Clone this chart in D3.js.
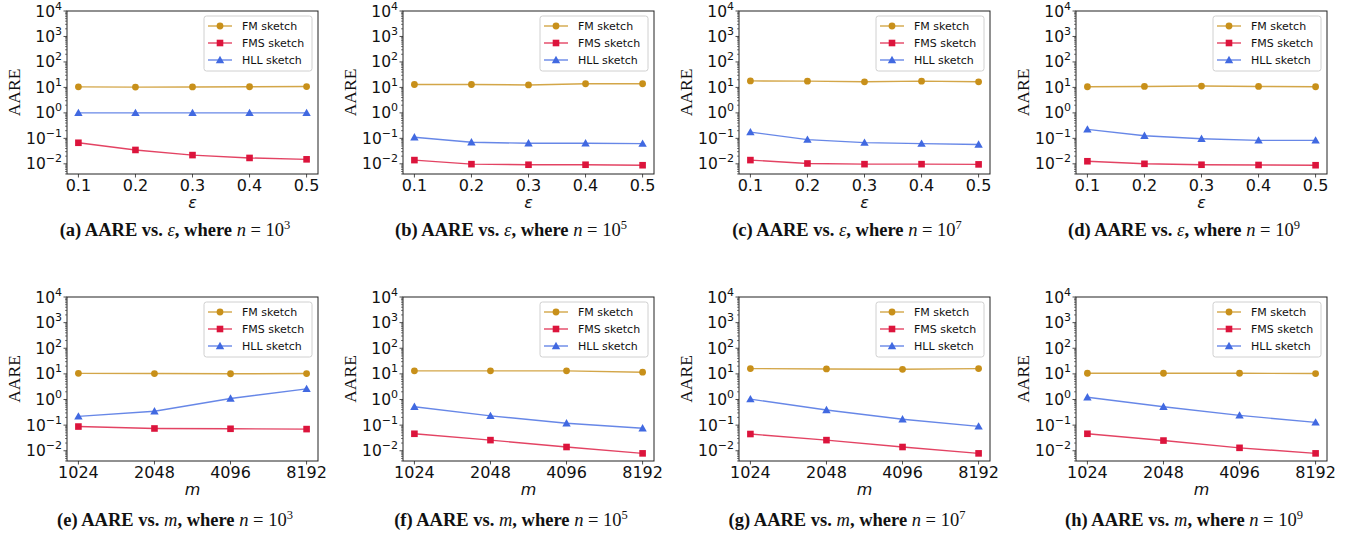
<!DOCTYPE html>
<html><head><meta charset="utf-8">
<script src="https://cdn.jsdelivr.net/npm/d3@7"></script>
<style>body{margin:0;background:#fff}svg{display:block}</style>
</head><body>
<svg id="c" width="1357" height="539"></svg>
<script>
const epsVals = [0.1,0.2,0.3,0.4,0.5];
const mVals = [1024,2048,4096,8192];
const nExp = ["3","5","7","9"];
const letters = ["a","b","c","d","e","f","g","h"];
const seriesNames = ["FM sketch","FMS sketch","HLL sketch"];
const yTicks = [1e-2,1e-1,1e0,1e1,1e2,1e3,1e4];

const fmEps  = [[10.5,10.3,10.4,10.6,10.8],[13.0,13.0,12.5,13.9,13.9],[18.0,17.6,16.6,17.6,16.6],[10.6,10.9,11.3,10.9,10.6]];
const fmsEps = [[0.067,0.035,0.022,0.017,0.015],[0.0140,0.0097,0.0092,0.0092,0.0088],[0.0140,0.0103,0.0097,0.0097,0.0095],[0.0126,0.0100,0.0092,0.0090,0.0088]];
const hllEps = [[1.0,1.0,1.0,1.0,1.0],[0.11,0.07,0.064,0.064,0.062],[0.176,0.089,0.068,0.062,0.057],[0.224,0.127,0.097,0.083,0.083]];

const fmM  = [[10.5,10.3,10.1,10.3],[13.1,13.1,13.1,11.6],[16.1,15.6,15.1,16.1],[10.6,10.6,10.6,10.3]];
const fmsM = [[0.088,0.074,0.072,0.070],[0.046,0.026,0.014,0.0079],[0.045,0.026,0.014,0.0079],[0.046,0.025,0.013,0.0079]];
const hllM = [[0.22,0.35,1.1,2.6],[0.52,0.23,0.118,0.076],[1.03,0.39,0.17,0.089],[1.23,0.52,0.24,0.128]];

const colors = ["#c8901a","#dc143c","#4169e1"];
const svg = d3.select("#c");
const offsets = [0,336,672,1009];
const PW = 251;
const rows = [{top:11,bottom:174,capY:236,tickY:191,labY:208},{top:297,bottom:461,capY:526,tickY:478,labY:495}];

function marker(g, type, x, y, col){
  if(type===0) g.append("circle").attr("cx",x).attr("cy",y).attr("r",3.4).attr("fill",col);
  else if(type===1) g.append("rect").attr("x",x-3.3).attr("y",y-3.3).attr("width",6.6).attr("height",6.6).attr("fill",col);
  else g.append("path").attr("d",`M${x},${y-4.2}L${x+4.2},${y+3.2}L${x-4.2},${y+3.2}Z`).attr("fill",col);
}

function supText(sel, base, exp, baseSize, expSize){
  sel.append("tspan").text(base).attr("font-size",baseSize);
  sel.append("tspan").text(exp).attr("font-size",expSize).attr("dy",-baseSize*0.45);
}

for(let r=0;r<2;r++){
  const row = rows[r];
  for(let p=0;p<4;p++){
    const ox = offsets[p]+67;
    const g = svg.append("g");
    const y = d3.scaleLog().domain([Math.pow(10,-2.4),1e4]).range([row.bottom,row.top]);
    let x, xs, data, tickFmt, xlab;
    if(r===0){
      x = d3.scaleLinear().domain([0.08,0.52]).range([ox,ox+PW]);
      xs = epsVals; data=[fmEps[p],fmsEps[p],hllEps[p]]; tickFmt=d=>d.toFixed(1); xlab="ε";
    } else {
      x = d3.scaleLog().base(2).domain([Math.pow(2,9.85),Math.pow(2,13.15)]).range([ox,ox+PW]);
      xs = mVals; data=[fmM[p],fmsM[p],hllM[p]]; tickFmt=d=>String(d); xlab="m";
    }
    const minor=[];
    for(let e=-3;e<4;e++) for(let k=2;k<10;k++){const v=k*Math.pow(10,e); if(v>=y.domain()[0]&&v<=1e4) minor.push(v);}
    g.selectAll(".mn").data(minor).enter().append("line")
      .attr("x1",ox).attr("x2",ox-2).attr("y1",d=>y(d)).attr("y2",d=>y(d)).attr("stroke","#222").attr("stroke-width",0.6);
    g.selectAll(".mj").data(yTicks).enter().append("line")
      .attr("x1",ox).attr("x2",ox-3.5).attr("y1",d=>y(d)).attr("y2",d=>y(d)).attr("stroke","#222").attr("stroke-width",0.8);
    yTicks.forEach(t=>{
      const e=Math.round(Math.log10(t));
      const tx=g.append("text").attr("x",ox-5).attr("y",y(t)+5.5).attr("text-anchor","end")
        .attr("font-family","DejaVu Sans").attr("fill","#111");
      supText(tx,"10",(e<0?"−":"")+Math.abs(e),15.5,11);
    });
    xs.forEach(v=>{
      g.append("line").attr("x1",x(v)).attr("x2",x(v)).attr("y1",row.bottom).attr("y2",row.bottom+3.5).attr("stroke","#222").attr("stroke-width",0.8);
      g.append("text").attr("x",x(v)).attr("y",row.tickY).attr("text-anchor","middle")
        .attr("font-family","DejaVu Sans").attr("font-size",16).attr("fill","#111").text(tickFmt(v));
    });
    g.append("text").attr("x",ox+PW/2).attr("y",row.labY).attr("text-anchor","middle")
      .attr("font-family","DejaVu Sans").attr("font-style","italic").attr("font-size",16).attr("fill","#111").text(xlab);
    g.append("text").attr("transform",`translate(${ox-47},${(row.top+row.bottom)/2}) rotate(-90)`)
      .attr("text-anchor","middle").attr("font-family","Liberation Serif").attr("font-size",17.5).attr("fill","#111").text("AARE");
    const line = d3.line().x((d,i)=>x(xs[i])).y(d=>y(d));
    data.forEach((s,si)=>{
      g.append("path").attr("d",line(s)).attr("fill","none").attr("stroke",colors[si]).attr("stroke-width",1.4).attr("stroke-opacity",0.8);
      s.forEach((v,i)=>marker(g,si,x(xs[i]),y(v),colors[si]));
    });
    g.append("rect").attr("x",ox).attr("y",row.top).attr("width",PW).attr("height",row.bottom-row.top)
      .attr("fill","none").attr("stroke","#222").attr("stroke-width",1);
    const lx=ox+137, ly=row.top+5;
    g.append("rect").attr("x",lx).attr("y",ly).attr("width",108).attr("height",55).attr("rx",2.5)
      .attr("fill","#fff").attr("fill-opacity",0.8).attr("stroke","#d0d0d0").attr("stroke-width",1);
    seriesNames.forEach((nm,si)=>{
      const yy=ly+10+si*17;
      g.append("line").attr("x1",lx+4).attr("x2",lx+28).attr("y1",yy).attr("y2",yy).attr("stroke",colors[si]).attr("stroke-width",1.4).attr("stroke-opacity",0.8);
      marker(g,si,lx+16,yy,colors[si]);
      g.append("text").attr("x",lx+38).attr("y",yy+4).attr("font-family","DejaVu Sans").attr("font-size",11).attr("fill","#111").text(nm);
    });
    const cap=g.append("text").attr("x",offsets[p]+175).attr("y",row.capY).attr("text-anchor","middle")
      .attr("font-family","Liberation Serif").attr("font-size",18.5).attr("fill","#111");
    cap.append("tspan").attr("font-weight","bold").text(`(${letters[r*4+p]}) AARE vs. `);
    cap.append("tspan").attr("font-style","italic").text(r===0?"ε":"m");
    cap.append("tspan").attr("font-weight","bold").text(", where ");
    cap.append("tspan").attr("font-style","italic").text("n");
    cap.append("tspan").text(" = 10");
    cap.append("tspan").attr("font-size",12.5).attr("dy",-7).text(nExp[p]);
  }
}
</script>
</body></html>
